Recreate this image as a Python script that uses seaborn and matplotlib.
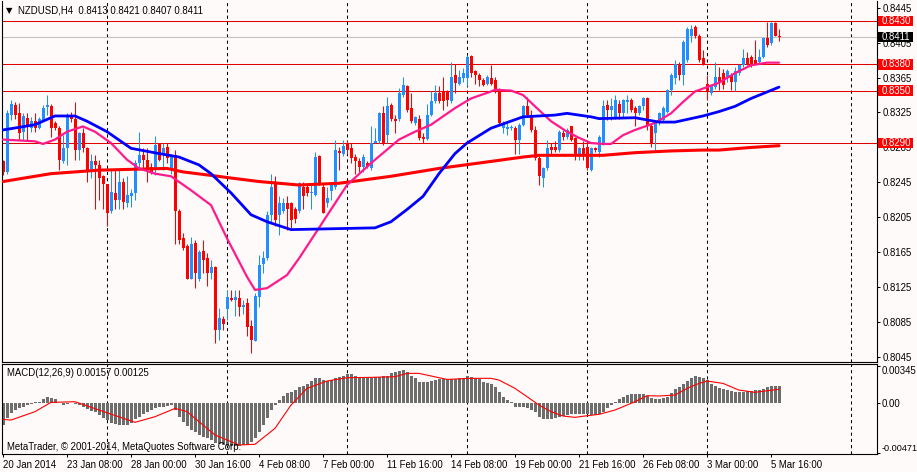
import numpy as np
import matplotlib
matplotlib.use('Agg')
import matplotlib.pyplot as plt
import matplotlib.transforms as mtransforms
from matplotlib.patches import Rectangle
import seaborn as sns

# ---------------- data ----------------
opens = [
0.8269, 0.8257, 0.8322, 0.8334, 0.8324, 0.8303, 0.8319, 0.8307, 0.8315, 0.8307,
0.8316, 0.8331, 0.8332, 0.8313, 0.8307, 0.8269, 0.8284, 0.8322, 0.8318, 0.8282,
0.8301, 0.8284, 0.8259, 0.8269, 0.8265, 0.8252, 0.8243, 0.8212, 0.8233, 0.8225,
0.8246, 0.8221, 0.8229, 0.8233, 0.8267, 0.8276, 0.8271, 0.8263, 0.8259, 0.8290,
0.8276, 0.8286, 0.8259, 0.8276, 0.8212, 0.8181, 0.8172, 0.8135, 0.8176, 0.8134,
0.8166, 0.8158, 0.8141, 0.8148, 0.8076, 0.8089, 0.8100, 0.8113, 0.8110, 0.8113,
0.8102, 0.8107, 0.8081, 0.8064, 0.8114, 0.8152, 0.8158, 0.8208, 0.8244, 0.8208,
0.8212, 0.8221, 0.8221, 0.8214, 0.8212, 0.8240, 0.8240, 0.8233, 0.8231, 0.8275,
0.8240, 0.8221, 0.8235, 0.8240, 0.8281, 0.8277, 0.8290, 0.8284, 0.8274, 0.8269,
0.8263, 0.8267, 0.8261, 0.8290, 0.8292, 0.8324, 0.8299, 0.8334, 0.8317, 0.8317,
0.8345, 0.8355, 0.8330, 0.8313, 0.8318, 0.8297, 0.8295, 0.8322, 0.8338, 0.8347,
0.8349, 0.8349, 0.8338, 0.8368, 0.8358, 0.8364, 0.8364, 0.8390, 0.8372, 0.8368,
0.8362, 0.8358, 0.8365, 0.8362, 0.8351, 0.8307, 0.8306, 0.8307, 0.8307, 0.8294,
0.8311, 0.8332, 0.8322, 0.8305, 0.8273, 0.8250, 0.8261, 0.8286, 0.8286, 0.8282,
0.8301, 0.8297, 0.8309, 0.8296, 0.8277, 0.8284, 0.8286, 0.8259, 0.8284, 0.8280,
0.8290, 0.8333, 0.8328, 0.8320, 0.8335, 0.8324, 0.8337, 0.8339, 0.8330, 0.8324,
0.8332, 0.8341, 0.8309, 0.8301, 0.8313, 0.8316, 0.8326, 0.8351, 0.8364, 0.8381,
0.8368, 0.8385, 0.8412, 0.8423, 0.8413, 0.8387, 0.8358, 0.8347, 0.8354, 0.8366,
0.8370, 0.8366, 0.8368, 0.8360, 0.8370, 0.8379, 0.8387, 0.8389, 0.8385, 0.8383,
0.8389, 0.8410, 0.8404, 0.8427, 0.8413]

highs = [
0.8271, 0.8328, 0.8339, 0.8337, 0.8336, 0.8324, 0.8324, 0.8320, 0.8324, 0.8320,
0.8334, 0.8345, 0.8335, 0.8315, 0.8309, 0.8299, 0.8324, 0.8326, 0.8337, 0.8303,
0.8307, 0.8286, 0.8278, 0.8276, 0.8271, 0.8253, 0.8243, 0.8259, 0.8259, 0.8259,
0.8250, 0.8252, 0.8238, 0.8271, 0.8303, 0.8284, 0.8284, 0.8267, 0.8298, 0.8290,
0.8290, 0.8290, 0.8278, 0.8282, 0.8215, 0.8187, 0.8175, 0.8183, 0.8179, 0.8168,
0.8179, 0.8164, 0.8156, 0.8149, 0.8101, 0.8092, 0.8122, 0.8122, 0.8122, 0.8122,
0.8111, 0.8113, 0.8088, 0.8118, 0.8162, 0.8166, 0.8212, 0.8255, 0.8252, 0.8229,
0.8227, 0.8229, 0.8223, 0.8217, 0.8246, 0.8246, 0.8244, 0.8244, 0.8280, 0.8276,
0.8244, 0.8240, 0.8246, 0.8294, 0.8286, 0.8294, 0.8294, 0.8290, 0.8278, 0.8273,
0.8278, 0.8269, 0.8309, 0.8307, 0.8326, 0.8332, 0.8343, 0.8336, 0.8322, 0.8353,
0.8366, 0.8357, 0.8347, 0.8321, 0.8322, 0.8301, 0.8335, 0.8349, 0.8357, 0.8355,
0.8366, 0.8351, 0.8383, 0.8381, 0.8374, 0.8376, 0.8391, 0.8391, 0.8374, 0.8370,
0.8364, 0.8368, 0.8379, 0.8366, 0.8353, 0.8315, 0.8313, 0.8311, 0.8309, 0.8313,
0.8334, 0.8343, 0.8328, 0.8309, 0.8275, 0.8263, 0.8294, 0.8290, 0.8292, 0.8305,
0.8305, 0.8307, 0.8310, 0.8297, 0.8286, 0.8292, 0.8290, 0.8286, 0.8286, 0.8299,
0.8339, 0.8339, 0.8341, 0.8345, 0.8339, 0.8340, 0.8345, 0.8341, 0.8332, 0.8334,
0.8343, 0.8343, 0.8313, 0.8315, 0.8326, 0.8332, 0.8352, 0.8370, 0.8385, 0.8383,
0.8408, 0.8423, 0.8425, 0.8425, 0.8415, 0.8396, 0.8368, 0.8358, 0.8383, 0.8377,
0.8375, 0.8375, 0.8370, 0.8377, 0.8381, 0.8398, 0.8394, 0.8391, 0.8408, 0.8398,
0.8410, 0.8429, 0.8429, 0.8429, 0.8421]

lows = [
0.8253, 0.8255, 0.8316, 0.8318, 0.8294, 0.8294, 0.8294, 0.8303, 0.8303, 0.8306,
0.8315, 0.8322, 0.8297, 0.8305, 0.8259, 0.8267, 0.8265, 0.8314, 0.8271, 0.8271,
0.8280, 0.8246, 0.8250, 0.8214, 0.8225, 0.8214, 0.8195, 0.8210, 0.8214, 0.8214,
0.8214, 0.8217, 0.8217, 0.8225, 0.8261, 0.8261, 0.8246, 0.8255, 0.8253, 0.8269,
0.8259, 0.8267, 0.8255, 0.8175, 0.8175, 0.8168, 0.8134, 0.8134, 0.8124, 0.8132,
0.8141, 0.8126, 0.8134, 0.8061, 0.8065, 0.8076, 0.8088, 0.8109, 0.8092, 0.8092,
0.8095, 0.8069, 0.8050, 0.8063, 0.8103, 0.8141, 0.8156, 0.8198, 0.8195, 0.8185,
0.8210, 0.8191, 0.8193, 0.8198, 0.8210, 0.8214, 0.8229, 0.8214, 0.8229, 0.8242,
0.8210, 0.8217, 0.8225, 0.8238, 0.8259, 0.8275, 0.8277, 0.8267, 0.8255, 0.8257,
0.8257, 0.8261, 0.8259, 0.8290, 0.8290, 0.8288, 0.8290, 0.8315, 0.8301, 0.8315,
0.8343, 0.8326, 0.8313, 0.8311, 0.8294, 0.8290, 0.8294, 0.8321, 0.8336, 0.8336,
0.8328, 0.8332, 0.8336, 0.8347, 0.8357, 0.8360, 0.8355, 0.8366, 0.8358, 0.8355,
0.8355, 0.8357, 0.8357, 0.8347, 0.8311, 0.8301, 0.8299, 0.8305, 0.8278, 0.8278,
0.8309, 0.8320, 0.8303, 0.8271, 0.8242, 0.8240, 0.8259, 0.8278, 0.8280, 0.8280,
0.8294, 0.8295, 0.8292, 0.8271, 0.8271, 0.8271, 0.8259, 0.8258, 0.8280, 0.8274,
0.8288, 0.8316, 0.8316, 0.8318, 0.8318, 0.8320, 0.8324, 0.8326, 0.8309, 0.8322,
0.8328, 0.8305, 0.8286, 0.8282, 0.8311, 0.8314, 0.8324, 0.8345, 0.8358, 0.8362,
0.8356, 0.8383, 0.8406, 0.8410, 0.8383, 0.8379, 0.8339, 0.8345, 0.8352, 0.8351,
0.8352, 0.8360, 0.8351, 0.8349, 0.8368, 0.8377, 0.8379, 0.8377, 0.8379, 0.8381,
0.8387, 0.8400, 0.8402, 0.8412, 0.8407]

closes = [
0.8257, 0.8324, 0.8335, 0.8322, 0.8302, 0.8321, 0.8309, 0.8315, 0.8307, 0.8318,
0.8330, 0.8333, 0.8307, 0.8307, 0.8271, 0.8284, 0.8322, 0.8318, 0.8282, 0.8301,
0.8284, 0.8259, 0.8269, 0.8265, 0.8250, 0.8243, 0.8210, 0.8234, 0.8225, 0.8246,
0.8223, 0.8231, 0.8233, 0.8267, 0.8276, 0.8271, 0.8259, 0.8257, 0.8288, 0.8271,
0.8284, 0.8273, 0.8276, 0.8212, 0.8179, 0.8170, 0.8135, 0.8175, 0.8141, 0.8165,
0.8156, 0.8141, 0.8148, 0.8076, 0.8090, 0.8083, 0.8114, 0.8110, 0.8114, 0.8103,
0.8105, 0.8080, 0.8065, 0.8115, 0.8151, 0.8158, 0.8208, 0.8240, 0.8202, 0.8221,
0.8221, 0.8215, 0.8202, 0.8203, 0.8244, 0.8229, 0.8233, 0.8234, 0.8274, 0.8244,
0.8210, 0.8227, 0.8244, 0.8282, 0.8279, 0.8287, 0.8282, 0.8273, 0.8269, 0.8263,
0.8274, 0.8263, 0.8290, 0.8292, 0.8324, 0.8290, 0.8332, 0.8318, 0.8315, 0.8347,
0.8357, 0.8328, 0.8315, 0.8320, 0.8296, 0.8295, 0.8322, 0.8338, 0.8347, 0.8338,
0.8338, 0.8339, 0.8366, 0.8359, 0.8366, 0.8370, 0.8389, 0.8370, 0.8368, 0.8362,
0.8357, 0.8366, 0.8358, 0.8351, 0.8313, 0.8313, 0.8308, 0.8308, 0.8294, 0.8311,
0.8332, 0.8322, 0.8305, 0.8273, 0.8252, 0.8261, 0.8284, 0.8282, 0.8282, 0.8303,
0.8297, 0.8305, 0.8294, 0.8277, 0.8284, 0.8277, 0.8261, 0.8284, 0.8282, 0.8297,
0.8332, 0.8328, 0.8332, 0.8339, 0.8324, 0.8339, 0.8339, 0.8328, 0.8324, 0.8332,
0.8341, 0.8309, 0.8290, 0.8313, 0.8324, 0.8330, 0.8351, 0.8368, 0.8381, 0.8368,
0.8406, 0.8421, 0.8421, 0.8412, 0.8385, 0.8381, 0.8349, 0.8356, 0.8366, 0.8360,
0.8356, 0.8372, 0.8360, 0.8372, 0.8379, 0.8387, 0.8381, 0.8379, 0.8381, 0.8389,
0.8410, 0.8402, 0.8427, 0.8413, 0.8411]

# moving averages (sampled at bar indices)
ma_slow_idx = [0, 12, 24, 41, 45, 52, 57, 64, 74, 84, 97, 109, 122, 130, 134, 147, 150, 158, 167, 175, 179, 187, 194]
ma_slow_val = [0.8246, 0.8255, 0.8259, 0.8261, 0.8257, 0.8253, 0.8250, 0.8246, 0.8242, 0.8244, 0.8252, 0.8261,
               0.8269, 0.8274, 0.8276, 0.8276, 0.8276, 0.8279, 0.8281, 0.8282, 0.8282, 0.8285, 0.8287]

ma_mid_idx = [0, 8, 13, 18, 21, 26, 32, 39, 44, 49, 52, 57, 62, 66, 72, 93, 97, 101, 105, 109,
              113, 116, 122, 130, 138, 141, 147, 149, 158, 164, 168, 175, 179, 183, 187, 194]
ma_mid_val = [0.8305, 0.8311, 0.8321, 0.8321, 0.8315, 0.8303, 0.8284, 0.8278, 0.8274, 0.8265,
              0.8255, 0.8233, 0.8208, 0.8200, 0.8191, 0.8193, 0.8200, 0.8214, 0.8229, 0.8255,
              0.8278, 0.8290, 0.8307, 0.8320, 0.8322, 0.8324, 0.8320, 0.8318, 0.8319, 0.8314,
              0.8314, 0.8321, 0.8326, 0.8332, 0.8341, 0.8354]

ma_fast_idx = [0, 8, 10, 13, 16, 20, 23, 27, 31, 34, 38, 42, 47, 52, 56, 61, 63, 66, 71, 74,
               77, 80, 86, 92, 99, 103, 107, 113, 117, 122, 123, 127, 130, 133, 137, 141, 144, 147, 150, 152,
               155, 158, 163, 167, 170, 173, 176, 179, 183, 187, 191, 194]
ma_fast_val = [0.8294, 0.8292, 0.8289, 0.8294, 0.8303, 0.8309, 0.8303, 0.8290, 0.8271, 0.8261,
               0.8255, 0.8252, 0.8236, 0.8219, 0.8181, 0.8137, 0.8122, 0.8124, 0.8139, 0.8158,
               0.8179, 0.8200, 0.8242, 0.8267, 0.8294, 0.8303, 0.8311, 0.8330, 0.8341, 0.8349,
               0.8351, 0.8350, 0.8345, 0.8332, 0.8315, 0.8303, 0.8296, 0.8290, 0.8289, 0.8289,
               0.8299, 0.8305, 0.8313, 0.8324, 0.8337, 0.8349, 0.8354, 0.8359, 0.8370, 0.8379,
               0.8382, 0.8382]

macd_main = [
-0.00207, -0.00145, -0.00099, -0.00068, -0.00053, -0.00037, -0.00022, -0.00009, 0.00002, 0.00009,
0.00034, 0.00056, 0.00046, 0.00031, -0.00006, -0.00022, -0.00015, -0.00006, -0.00015, -0.00022,
-0.00037, -0.00059, -0.00077, -0.00090, -0.00114, -0.00139, -0.00161, -0.00192, -0.00201, -0.00207,
-0.00207, -0.00207, -0.00192, -0.00151, -0.00130, -0.00108, -0.00083, -0.00068, -0.00053, -0.00037,
-0.00037, -0.00028, -0.00022, -0.00068, -0.00130, -0.00176, -0.00213, -0.00253, -0.00275, -0.00300,
-0.00315, -0.00331, -0.00346, -0.00377, -0.00386, -0.00392, -0.00399, -0.00399, -0.00399, -0.00399,
-0.00392, -0.00392, -0.00368, -0.00324, -0.00269, -0.00207, -0.00145, -0.00068, -0.00022, 0.00025,
0.00065, 0.00087, 0.00102, 0.00117, 0.00148, 0.00158, 0.00170, 0.00201, 0.00226, 0.00226,
0.00210, 0.00201, 0.00210, 0.00226, 0.00241, 0.00250, 0.00263, 0.00263, 0.00250, 0.00241,
0.00232, 0.00232, 0.00232, 0.00238, 0.00238, 0.00244, 0.00250, 0.00272, 0.00281, 0.00294,
0.00303, 0.00281, 0.00250, 0.00226, 0.00195, 0.00195, 0.00195, 0.00201, 0.00210, 0.00219,
0.00216, 0.00216, 0.00219, 0.00219, 0.00226, 0.00232, 0.00247, 0.00241, 0.00226, 0.00219,
0.00195, 0.00185, 0.00170, 0.00142, 0.00102, 0.00056, 0.00025, 0.00003, -0.00037, -0.00037,
-0.00037, -0.00046, -0.00068, -0.00090, -0.00130, -0.00151, -0.00155, -0.00155, -0.00145, -0.00130,
-0.00121, -0.00114, -0.00108, -0.00108, -0.00108, -0.00108, -0.00108, -0.00114, -0.00114, -0.00108,
-0.00090, -0.00053, -0.00022, 0.00009, 0.00034, 0.00053, 0.00071, 0.00080, 0.00080, 0.00080,
0.00080, 0.00065, 0.00040, 0.00037, 0.00037, 0.00040, 0.00056, 0.00087, 0.00124, 0.00148,
0.00176, 0.00204, 0.00232, 0.00244, 0.00241, 0.00226, 0.00210, 0.00170, 0.00155, 0.00139,
0.00124, 0.00114, 0.00105, 0.00102, 0.00102, 0.00102, 0.00108, 0.00108, 0.00114, 0.00121,
0.00127, 0.00142, 0.00151, 0.00155, 0.00157]

signal_idx = [0, 2, 8, 12, 18, 24, 33, 38, 43, 46, 53, 59, 63, 68, 72, 76, 81, 86, 92, 98,
              101, 104, 111, 117, 122, 124, 128, 131, 134, 137, 140, 143, 146, 149, 153, 158, 161, 164,
              168, 171, 174, 176, 180, 184, 188, 194]
signal_val = [-0.00155, -0.00161, -0.00083, 0.00003, 0.00009, -0.00068, -0.00182, -0.00130, -0.00053, -0.00083,
              -0.00300, -0.00392, -0.00386, -0.00238, -0.00022, 0.00133, 0.00201, 0.00232, 0.00235, 0.00241,
              0.00272, 0.00272, 0.00216, 0.00226, 0.00226, 0.00210, 0.00133, 0.00056, -0.00022, -0.00083,
              -0.00124, -0.00136, -0.00121, -0.00108, -0.00068, 0.00009, 0.00065, 0.00062,
              0.00071, 0.00133, 0.00179, 0.00201, 0.00179, 0.00117, 0.00096, 0.00125]

level_lines = [0.8430, 0.8380, 0.8350, 0.8290]
bid_price = 0.8411
price_ticks = [0.8445, 0.8405, 0.8365, 0.8325, 0.8285, 0.8245, 0.8205, 0.8165, 0.8125, 0.8085, 0.8045]
time_tick_idx = [0, 16, 32, 48, 64, 80, 96, 112, 128, 144, 160, 176, 192]
time_tick_labels = ["20 Jan 2014", "23 Jan 08:00", "28 Jan 00:00", "30 Jan 16:00", "4 Feb 08:00",
                    "7 Feb 00:00", "11 Feb 16:00", "14 Feb 08:00", "19 Feb 00:00", "21 Feb 16:00",
                    "26 Feb 08:00", "3 Mar 00:00", "5 Mar 16:00"]
week_sep_idx = [26, 56, 86, 116, 146, 176, 212]
macd_ticks = [0.00345, 0.0, -0.00471]
macd_tick_labels = ["0.00345", "0.00", "-0.00471"]

for arr in (opens, highs, lows, closes, macd_main):
    assert len(arr) == 195, len(arr)

# ---------------- style ----------------
BG = '#fffafa'
BULL = '#1e90ff'
BEAR = '#ff0000'
sns.set_style('white')
plt.rcParams['font.family'] = ['Liberation Sans', 'DejaVu Sans']
plt.rcParams['axes.unicode_minus'] = False
FS = 6.9

W, Hh = 917, 472
fig = plt.figure(figsize=(W / 100, Hh / 100), dpi=100, facecolor=BG)
fx = lambda px: px / W
fy = lambda py: 1 - py / Hh

ax = fig.add_axes([fx(2), fy(361.5), fx(877) - fx(2), fy(0.5) - fy(361.5)])
ax2 = fig.add_axes([fx(2), fy(454), fx(877) - fx(2), fy(364) - fy(454)])
for a in (ax, ax2):
    a.set_facecolor(BG)
    for s in a.spines.values():
        s.set_color('black')
        s.set_linewidth(0.8)
    a.set_xlim(-0.25, 218.5)
ax.spines['top'].set_visible(False)

ax.set_ylim(0.80401, 0.84531)
ax2.set_ylim(-0.00476, 0.00359)

# ---------------- main chart ----------------
o = np.array(opens); h = np.array(highs); l = np.array(lows); c = np.array(closes)
idx = np.arange(len(c))
cols = np.where(c >= o, BULL, BEAR)

for xi in week_sep_idx:
    ax.axvline(xi, color='black', lw=0.75, ls=(0, (3, 3)), zorder=1)
    ax2.axvline(xi, color='black', lw=0.75, ls=(0, (3, 3)), zorder=1)

for lv in level_lines:
    ax.axhline(lv, color='#e00000', lw=0.75, zorder=1.2)
ax.axhline(bid_price, color='#c0c0c0', lw=0.75, zorder=1.1)

ax.vlines(idx, l, h, colors=cols, lw=0.75, zorder=2)
body_bot = np.minimum(o, c)
body_h = np.maximum(np.abs(c - o), 0.00006)
ax.bar(idx, body_h, bottom=body_bot, width=0.75, color=cols, linewidth=0, zorder=2.1)

sns.lineplot(x=ma_slow_idx, y=ma_slow_val, ax=ax, color='#ff0000', linewidth=2.2, zorder=3, sort=False)
sns.lineplot(x=ma_mid_idx, y=ma_mid_val, ax=ax, color='#0000ff', linewidth=2.0, zorder=3.2, sort=False)
sns.lineplot(x=ma_fast_idx, y=ma_fast_val, ax=ax, color='#ff1a8c', linewidth=1.6, zorder=3.1, sort=False)

ax.yaxis.tick_right()
ax.set_yticks(price_ticks)
ax.set_yticklabels([f'{v:.4f}' for v in price_ticks])
ax.tick_params(axis='y', which='both', direction='out', length=2.2, width=0.75, pad=1.5,
               labelsize=FS, colors='black', left=False, right=True)
ax.tick_params(axis='x', bottom=False, labelbottom=False)
ax.set_xlabel(''); ax.set_ylabel('')

blend = mtransforms.blended_transform_factory(ax.transAxes, ax.transData)
box_h = 0.00118
for val, fc in [(0.8430, '#ff0000'), (0.8380, '#ff0000'), (0.8350, '#ff0000'),
                (0.8290, '#ff0000'), (bid_price, '#000000')]:
    ax.add_patch(Rectangle((1.0011, val - box_h / 2), 0.0405, box_h, transform=blend,
                           facecolor=fc, edgecolor='none', clip_on=False, zorder=20))
    ax.text(1.0050, val, f'{val:.4f}', transform=blend, color='white', fontsize=FS,
            ha='left', va='center', clip_on=False, zorder=21)

# ---------------- MACD ----------------
ax2.bar(idx, macd_main, width=0.75, color='#6d6d6d', linewidth=0, zorder=2)
sns.lineplot(x=signal_idx, y=signal_val, ax=ax2, color='#ff0000', linewidth=0.8, zorder=3, sort=False)

ax2.yaxis.tick_right()
ax2.set_yticks(macd_ticks)
ax2.set_yticklabels(macd_tick_labels)
ax2.tick_params(axis='y', direction='out', length=2.0, width=0.75, pad=1.0, labelsize=FS,
                colors='black', left=False, right=True)
tl = ax2.get_yticklabels()
tl[0].set_va('top'); tl[2].set_va('bottom')
tl[2].set_fontsize(6.6)
ax2.set_xticks(time_tick_idx)
ax2.set_xticklabels(time_tick_labels, ha='left')
ax2.tick_params(axis='x', direction='out', length=2.5, width=0.75, pad=1.5, labelsize=FS,
                colors='black', bottom=True)
ax2.set_xlabel(''); ax2.set_ylabel('')

# ---------------- texts ----------------
fig.text(fx(5.5), fy(10.5), '\u25bc', fontsize=6, ha='left', va='center', color='black',
         family=['DejaVu Sans'])
fig.text(fx(18), fy(10.5), 'NZDUSD,H4  0.8413 0.8421 0.8407 0.8411', fontsize=FS,
         ha='left', va='center', color='black')
fig.text(fx(7), fy(373), 'MACD(12,26,9) 0.00157 0.00125', fontsize=FS, ha='left', va='center', color='black')
fig.text(fx(7), fy(446.5), 'MetaTrader, \u00a9 2001-2014, MetaQuotes Software Corp.', fontsize=FS,
         ha='left', va='center', color='black')

fig.savefig('out.png', dpi=100, facecolor=BG)
